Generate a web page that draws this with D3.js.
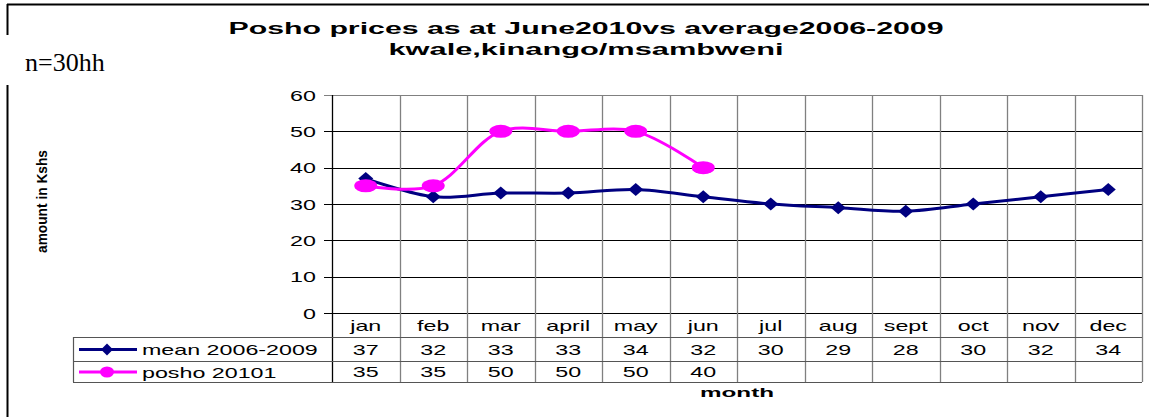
<!DOCTYPE html>
<html>
<head>
<meta charset="utf-8">
<script src="https://cdn.jsdelivr.net/npm/d3@7"></script>
<style>
  body { margin: 0; background: #fff; }
  text { font-family: "Liberation Sans", Arial, sans-serif; }
</style>
</head>
<body>
<div id="chart"></div>
<script>
// données
let months = ["jan","feb","mar","april","may","jun","jul","aug","sept","oct","nov","dec"];
let meanValues = [37,32,33,33,34,32,30,29,28,30,32,34];
let poshoValues = [35,35,50,50,50,40,null,null,null,null,null,null];
let seriesNames = ["mean 2006-2009", "posho 20101"];
let yTicks = [0,10,20,30,40,50,60];

let W = 1149, H = 417;
let plot = {left: 332, right: 1142, top: 95, bottom: 313};
let rowH = [24, 24, 21];
let legendLeft = 73;
let stretch = 1.55; // le texte de l'original est élargi horizontalement

let svg = d3.select("#chart").append("svg")
            .attr("width", W)
            .attr("height", H);

// élargit un texte selon le facteur donné
function widen(sel, f) {
  sel.each(function() {
    let len = this.getComputedTextLength();
    if (len > 0) {
      d3.select(this).attr("textLength", len * f).attr("lengthAdjust", "spacingAndGlyphs");
    }
  });
}

// cadre extérieur
svg.append("line").attr("x1", 7).attr("x2", W).attr("y1", 4.5).attr("y2", 4.5)
   .attr("stroke", "#000").attr("stroke-width", 2);
svg.append("line").attr("x1", 7.5).attr("x2", 7.5).attr("y1", 4).attr("y2", H)
   .attr("stroke", "#000").attr("stroke-width", 2);
svg.append("rect").attr("x", 0).attr("y", 35).attr("width", 140).attr("height", 50)
   .attr("fill", "#fff");
svg.append("text").attr("x", 25).attr("y", 71)
   .style("font-family", "'Liberation Serif', 'Times New Roman', serif")
   .style("font-size", "26px")
   .text("n=30hh");

// titre
svg.append("text").attr("x", 586).attr("y", 34).attr("text-anchor", "middle")
   .attr("textLength", 715).attr("lengthAdjust", "spacingAndGlyphs")
   .style("font-size", "16px").style("font-weight", "bold")
   .text("Posho prices as at June2010vs average2006-2009");
svg.append("text").attr("x", 586).attr("y", 55).attr("text-anchor", "middle")
   .attr("textLength", 395).attr("lengthAdjust", "spacingAndGlyphs")
   .style("font-size", "16px").style("font-weight", "bold")
   .text("kwale,kinango/msambweni");

// échelles
let xScale = d3.scaleBand().domain(months).range([plot.left, plot.right]);
let yScale = d3.scaleLinear().domain([0, 60]).range([plot.bottom, plot.top]);
let cx = d => xScale(d) + xScale.bandwidth() / 2;

let tableBottom = plot.bottom + rowH[0] + rowH[1] + rowH[2];

// grille horizontale
svg.append("g").selectAll("line").data(yTicks).enter().append("line")
   .attr("x1", plot.left - 8).attr("x2", plot.right)
   .attr("y1", d => Math.round(yScale(d)) + 0.5).attr("y2", d => Math.round(yScale(d)) + 0.5)
   .attr("stroke", d => d == 60 ? "#808080" : "#000").attr("stroke-width", 1);

// grille verticale (jusqu'en bas du tableau)
let bounds = months.map(m => xScale(m)).concat([plot.right]);
svg.append("g").selectAll("line").data(bounds).enter().append("line")
   .attr("x1", d => Math.round(d) + 0.5).attr("x2", d => Math.round(d) + 0.5)
   .attr("y1", plot.top).attr("y2", tableBottom)
   .attr("stroke", (d, i) => i == 0 ? "#000" : "#808080").attr("stroke-width", 1.3);

// étiquettes axe Y
svg.append("g").selectAll("text").data(yTicks).enter().append("text")
   .attr("x", 316).attr("y", d => yScale(d) + 5.5)
   .attr("text-anchor", "end")
   .style("font-size", "15px")
   .text(d => d)
   .call(widen, stretch);

// titre axe Y (écrasé comme dans l'original)
svg.append("text")
   .attr("transform", "translate(47,253) rotate(-90)")
   .attr("textLength", 103).attr("lengthAdjust", "spacingAndGlyphs")
   .style("font-size", "14px").style("font-weight", "bold")
   .text("amount in Kshs");

// tableau de données
let rowTops = [plot.bottom, plot.bottom + rowH[0], plot.bottom + rowH[0] + rowH[1]];
[rowTops[1], rowTops[2], tableBottom].forEach(y => {
  svg.append("line").attr("x1", legendLeft).attr("x2", plot.right)
     .attr("y1", y + 0.5).attr("y2", y + 0.5)
     .attr("stroke", "#555").attr("stroke-width", 1.2);
});
svg.append("line").attr("x1", legendLeft + 0.5).attr("x2", legendLeft + 0.5)
   .attr("y1", rowTops[1]).attr("y2", tableBottom)
   .attr("stroke", "#555").attr("stroke-width", 1.2);

svg.append("g").selectAll("text").data(months).enter().append("text")
   .attr("x", d => cx(d)).attr("y", rowTops[0] + 17.5)
   .attr("text-anchor", "middle").style("font-size", "15px")
   .text(d => d)
   .call(widen, stretch);

[meanValues, poshoValues].forEach((vals, r) => {
  svg.append("g").selectAll("text").data(months).enter().append("text")
     .attr("x", d => cx(d)).attr("y", rowTops[r + 1] + (r == 0 ? 17.5 : 16))
     .attr("text-anchor", "middle").style("font-size", "15px")
     .text((d, i) => vals[i] == null ? "" : vals[i])
     .call(widen, stretch);
});

// légende dans le tableau
let colors = ["#000080", "#FF00FF"];
seriesNames.forEach((name, r) => {
  let ym = rowTops[r + 1] + rowH[r + 1] / 2 + 0.5;
  svg.append("line").attr("x1", 79).attr("x2", 137).attr("y1", ym).attr("y2", ym)
     .attr("stroke", colors[r]).attr("stroke-width", 3);
  if (r == 0) {
    svg.append("path").attr("d", `M107,${ym-6}L113,${ym}L107,${ym+6}L101,${ym}Z`)
       .attr("fill", colors[r]);
  } else {
    svg.append("ellipse").attr("cx", 107).attr("cy", ym).attr("rx", 7).attr("ry", 5.5)
       .attr("fill", colors[r]);
  }
  svg.append("text").attr("x", 142).attr("y", ym + 5.5)
     .style("font-size", "15px").text(name)
     .call(widen, stretch);
});

// titre axe X
svg.append("text").attr("x", 737).attr("y", 397).attr("text-anchor", "middle")
   .attr("textLength", 74).attr("lengthAdjust", "spacingAndGlyphs")
   .style("font-size", "13px").style("font-weight", "bold")
   .text("month");

// courbes
let line = d3.line()
             .defined(d => d.v != null)
             .x(d => cx(d.m))
             .y(d => yScale(d.v))
             .curve(d3.curveCatmullRom.alpha(0.5));

let meanData = months.map((m, i) => ({m: m, v: meanValues[i]}));
let poshoData = months.map((m, i) => ({m: m, v: poshoValues[i]})).filter(d => d.v != null);

svg.append("path").datum(meanData).attr("d", line)
   .attr("fill", "none").attr("stroke", colors[0]).attr("stroke-width", 3);
svg.append("g").selectAll("path").data(meanData).enter().append("path")
   .attr("d", d => {
     let x = cx(d.m), y = yScale(d.v);
     return `M${x},${y-6.5}L${x+7.5},${y}L${x},${y+6.5}L${x-7.5},${y}Z`;
   })
   .attr("fill", colors[0]);

svg.append("path").datum(poshoData).attr("d", line)
   .attr("fill", "none").attr("stroke", colors[1]).attr("stroke-width", 3);
svg.append("g").selectAll("ellipse").data(poshoData).enter().append("ellipse")
   .attr("cx", d => cx(d.m)).attr("cy", d => yScale(d.v))
   .attr("rx", 11.5).attr("ry", 6.5)
   .attr("fill", colors[1]);
</script>
</body>
</html>
